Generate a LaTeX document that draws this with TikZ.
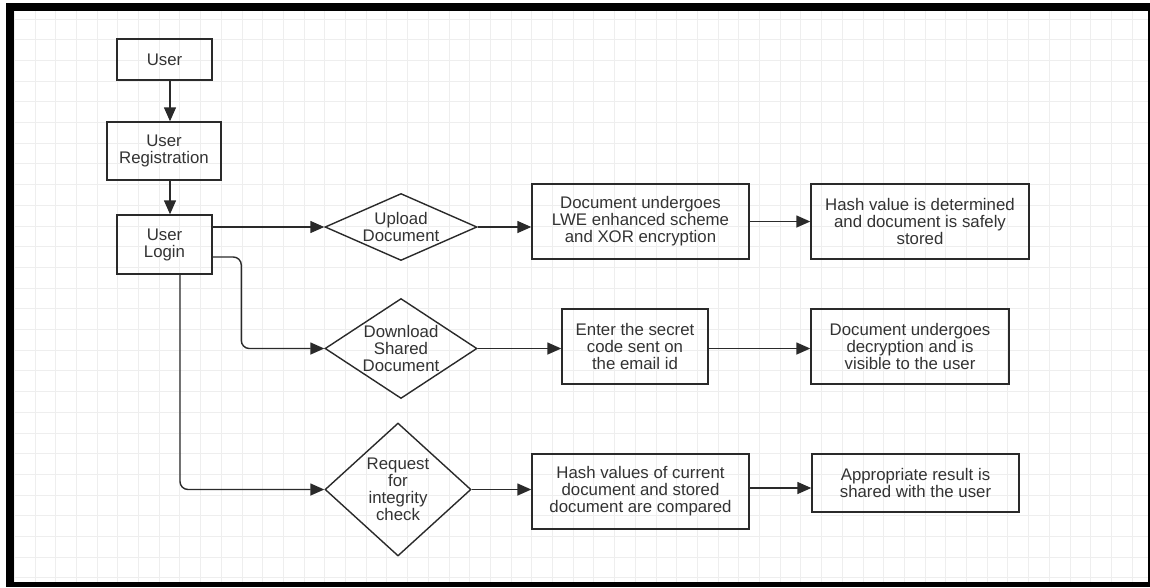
\documentclass[tikz,border=0pt]{standalone}
\usepackage{fontspec}
\setmainfont{Liberation Sans}
\usetikzlibrary{arrows.meta,shapes.geometric}
\definecolor{gridc}{HTML}{EEEEEE}
\definecolor{linec}{HTML}{2A2A2A}
\definecolor{textc}{HTML}{333333}
\tikzset{
  box/.style={draw=linec, line width=1.4pt, rectangle, inner sep=0pt, fill=none},
  dia/.style={draw=linec, line width=1.4pt, diamond, inner sep=0pt},
  txt/.style={align=center, text=textc, font=\fontsize{16.8}{17}\selectfont, inner sep=0pt},
  arr/.style={draw=linec, line width=1.4pt, -{Triangle[length=14pt,width=12pt]}},
}
\begin{document}
\begin{tikzpicture}[x=1pt,y=-1pt]
\useasboundingbox (0,0) rectangle (1150,587);
\fill[white] (0,0) rectangle (1150,587);
\fill[black] (6,3) rectangle (1150,587);
\fill[white] (14,11) rectangle (1148,582);
\begin{scope}
\clip (14,11) rectangle (1148,582);
\foreach \k in {-1,...,54} {
  \draw[gridc, line width=1pt] ({35+20.7*\k},11) -- ({35+20.7*\k},582);
}
\foreach \k in {-1,...,28} {
  \draw[gridc, line width=1pt] (14,{19+20.7*\k}) -- (1148,{19+20.7*\k});
}
\end{scope}

% left column
\node[box, minimum width=95pt, minimum height=41pt, txt] (user) at (164.5,59.5) {User};
\node[box, minimum width=114pt, minimum height=58pt, txt] (reg) at (164,151) {User\\Registration};
\node[box, minimum width=95pt, minimum height=59pt, txt] (login) at (164.5,244.5) {User\\Login};

% diamonds
\node[dia, minimum width=152pt, minimum height=67pt] (up) at (401,227) {};
\node[txt] (upT) at (up.center) {Upload\\Document};
\node[dia, minimum width=152pt, minimum height=100pt] (down) at (401,348.5) {};
\node[txt] (downT) at (down.center) {Download\\Shared\\Document};
\node[dia, minimum width=146pt, minimum height=133pt] (req) at (398,489.5) {};
\node[txt] (reqT) at (req.center) {Request\\for\\integrity\\check};

% process boxes
\node[box, minimum width=217pt, minimum height=75pt, txt] (lwe) at (640.5,221.5) {Document undergoes\\LWE enhanced scheme\\and XOR encryption};
\node[box, minimum width=218pt, minimum height=75pt, txt] (hash) at (920,221.5) {Hash value is determined\\and document is safely\\stored};
\node[box, minimum width=146pt, minimum height=75pt, txt] (secret) at (635,346.5) {Enter the secret\\code sent on\\the email id};
\node[box, minimum width=198pt, minimum height=75pt, txt] (decr) at (910,346.5) {Document undergoes\\decryption and is\\visible to the user};
\node[box, minimum width=217pt, minimum height=75pt, txt] (cmp) at (640.5,491.5) {Hash values of current\\document and stored\\document are compared};
\node[box, minimum width=207pt, minimum height=58pt, txt] (appr) at (915.5,483) {Appropriate result is\\shared with the user};

% connectors
\draw[arr] ([xshift=5.5pt]user.south) -- ([xshift=6pt]reg.north);
\draw[arr] ([xshift=6pt]reg.south) -- ([xshift=5.5pt]login.north);
\draw[arr] (login.east |- up.west) -- (up.west);
\draw[arr] (up.east) -- (up.east -| lwe.west);
\draw[arr] (lwe.east) -- (hash.west);
\draw[arr, rounded corners=8pt] ([yshift=-12.5pt]login.east) -| ([xshift=-83pt]down.west) -- (down.west);
\draw[arr] (down.east) -- (down.east -| secret.west);
\draw[arr] ([yshift=-2pt]secret.east) -- ([yshift=-2pt]secret.east -| decr.west);
\draw[arr, rounded corners=8pt] ([xshift=15.5pt]login.south) |- (req.west);
\draw[arr] (req.east) -- (req.east -| cmp.west);
\draw[arr] ([yshift=3.5pt]cmp.east) -- ([yshift=3.5pt]cmp.east -| appr.west);
\end{tikzpicture}
\end{document}
